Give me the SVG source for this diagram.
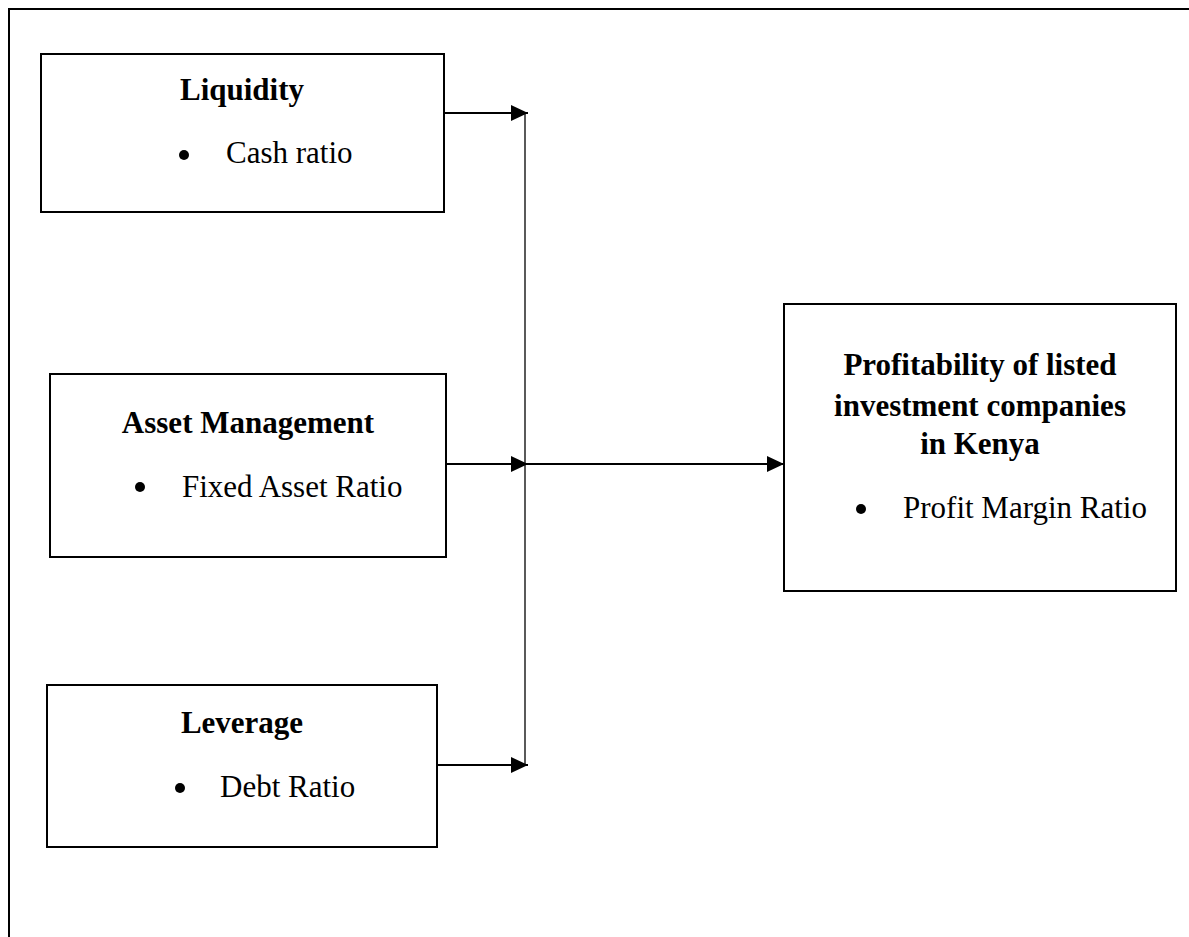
<svg xmlns="http://www.w3.org/2000/svg" width="1189" height="937" viewBox="0 0 1189 937">
<style>
.box{fill:#fff;stroke:#000;stroke-width:2}
.t{font-family:"Liberation Serif","Times New Roman",serif;font-size:31px;fill:#000}
.b{font-weight:bold;text-anchor:middle}
.arr{stroke:#000;stroke-width:2.2;fill:none}
.vl{stroke:#000;stroke-width:1.3;fill:none}
</style>
<defs>
<marker id="ah" markerWidth="17" markerHeight="16" refX="17" refY="8" orient="auto" markerUnits="userSpaceOnUse">
<path d="M0,0 L17,8 L0,16 z" fill="#000"/>
</marker>
</defs>
<rect width="1189" height="937" fill="#fff"/>
<rect x="9" y="9" width="1200" height="1000" fill="none" stroke="#000" stroke-width="2"/>
<g id="liquidity">
<rect class="box" x="41" y="54" width="403" height="158"/>
<text class="t b" x="242" y="100">Liquidity</text>
<circle cx="184" cy="155" r="5"/>
<text class="t" x="226" y="163">Cash ratio</text>
</g>
<g id="asset-management">
<rect class="box" x="50" y="374" width="396" height="183"/>
<text class="t b" x="248" y="433">Asset Management</text>
<circle cx="140" cy="487" r="5"/>
<text class="t" x="182" y="497">Fixed Asset Ratio</text>
</g>
<g id="leverage">
<rect class="box" x="47" y="685" width="390" height="162"/>
<text class="t b" x="242" y="733">Leverage</text>
<circle cx="180" cy="788" r="5"/>
<text class="t" x="220" y="797">Debt Ratio</text>
</g>
<g id="profitability">
<rect class="box" x="784" y="304" width="392" height="287"/>
<text class="t b" x="980" y="375">Profitability of listed</text>
<text class="t b" x="980" y="416">investment companies</text>
<text class="t b" x="980" y="454">in Kenya</text>
<circle cx="861" cy="509" r="5"/>
<text class="t" x="903" y="518">Profit Margin Ratio</text>
</g>
<g id="connectors">
<line class="vl" x1="525" y1="113" x2="525" y2="765"/>
<line class="arr" x1="444" y1="113" x2="528" y2="113" marker-end="url(#ah)"/>
<line class="arr" x1="446" y1="464" x2="528" y2="464" marker-end="url(#ah)"/>
<line class="arr" x1="437" y1="765" x2="528" y2="765" marker-end="url(#ah)"/>
<line class="arr" x1="528" y1="464" x2="784" y2="464" marker-end="url(#ah)"/>
</g>
</svg>
